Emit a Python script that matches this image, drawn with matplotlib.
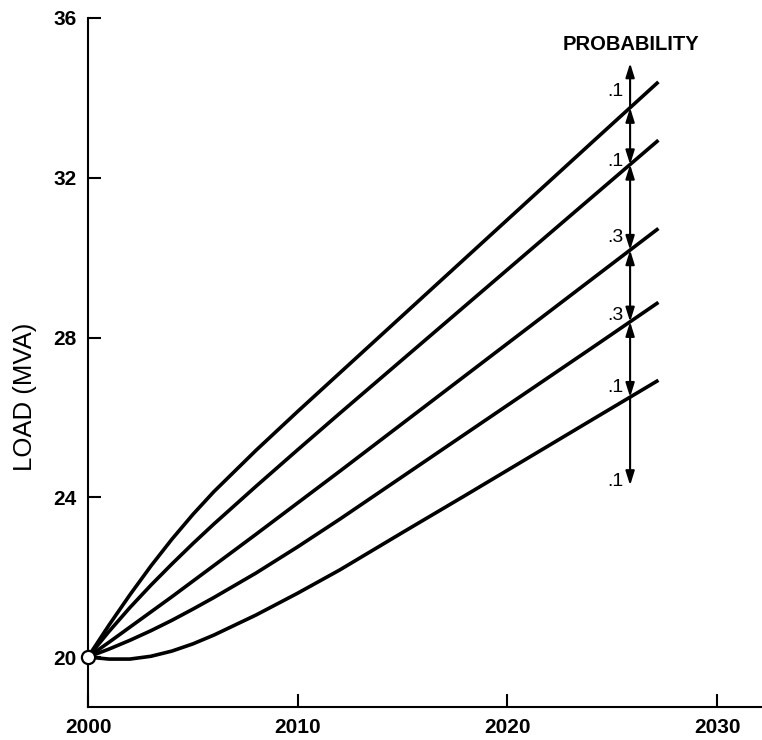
import numpy as np
import matplotlib.pyplot as plt

plt.rcParams['font.family'] = ['Liberation Sans', 'DejaVu Sans']

# load forecast scenarios, highest to lowest
years = [2000, 2001, 2002, 2003, 2004, 2005, 2006, 2008, 2010, 2012,
         2015, 2018, 2021, 2024, 2027.2]
load_a = [20.0, 20.8, 21.56, 22.28, 22.95, 23.57, 24.14, 25.17, 26.15, 27.11,
          28.55, 29.99, 31.43, 32.87, 34.4]
load_b = [20.0, 20.64, 21.24, 21.8, 22.33, 22.84, 23.33, 24.27, 25.19, 26.1,
          27.45, 28.8, 30.15, 31.5, 32.94]
load_c = [20.0, 20.37, 20.75, 21.13, 21.51, 21.9, 22.29, 23.07, 23.86, 24.65,
          25.85, 27.05, 28.25, 29.45, 30.73]
load_d = [20.0, 20.2, 20.42, 20.66, 20.92, 21.2, 21.49, 22.1, 22.76, 23.45,
          24.52, 25.59, 26.66, 27.73, 28.88]
load_e = [20.0, 19.95, 19.95, 20.02, 20.15, 20.33, 20.55, 21.05, 21.6, 22.18,
          23.12, 24.05, 24.99, 25.93, 26.93]
curves = [load_a, load_b, load_c, load_d, load_e]

start_year, start_load = 2000, 20.0

# probability band labels along the marker line
prob_labels = ['.1', '.1', '.3', '.3', '.1', '.1']
prob_label_y = [34.15, 32.4, 30.5, 28.55, 26.75, 24.4]
arrow_x = 2025.85
arrow_top, arrow_bottom = 34.87, 24.3

xticks = [2000, 2010, 2020, 2030]
yticks = [20, 24, 28, 32, 36]

fig = plt.figure(figsize=(7.62, 7.40), dpi=100)
ax = fig.add_axes([88/762, 1-707/740, 674/762, 689/740])

for ld in curves:
    ax.plot(years, ld, color='black', lw=2.6, solid_capstyle='butt',
            solid_joinstyle='round', zorder=3)

ax.plot([start_year], [start_load], 'o', ms=9.5, mfc='white', mec='black',
        mew=1.6, zorder=5, clip_on=False)

# vertical arrow line split at each curve crossing
cross = [np.interp(arrow_x, years, ld) for ld in curves]
stops = [arrow_top] + cross + [arrow_bottom]
for k in range(len(stops) - 1):
    y0, y1 = stops[k], stops[k + 1]
    if k == 0:
        style = '-|>'
        p_from, p_to = (arrow_x, y1), (arrow_x, y0)
    elif k == len(stops) - 2:
        style = '-|>'
        p_from, p_to = (arrow_x, y0), (arrow_x, y1)
    else:
        style = '<|-|>'
        p_from, p_to = (arrow_x, y0), (arrow_x, y1)
    ax.annotate('', xy=p_to, xytext=p_from,
                arrowprops=dict(arrowstyle=style + ',head_length=0.7,head_width=0.22',
                                color='black', lw=1.5, shrinkA=0, shrinkB=0,
                                mutation_scale=12),
                zorder=4)

for lbl, ly in zip(prob_labels, prob_label_y):
    ax.text(arrow_x - 0.3, ly, lbl, ha='right', va='center', fontsize=14)

ax.text(arrow_x + 0.05, 35.33, 'PROBABILITY', ha='center', va='center',
        fontsize=14.5, fontweight='bold', clip_on=False)

ax.set_xlim(2000, 2032.14)
ax.set_ylim(18.75, 36)
ax.set_xticks(xticks)
ax.set_yticks(yticks)
ax.tick_params(direction='in', length=9.5, width=1.5, pad=8, labelsize=15)
for t in ax.get_xticklabels() + ax.get_yticklabels():
    t.set_fontweight('bold')

for side in ('top', 'right'):
    ax.spines[side].set_visible(False)
for side in ('left', 'bottom'):
    ax.spines[side].set_linewidth(1.5)

fig.text(25/762, 1-397/740, 'LOAD (MVA)', rotation=90, ha='center', va='center',
         fontsize=18.5)

fig.savefig('out.png', dpi=100)
